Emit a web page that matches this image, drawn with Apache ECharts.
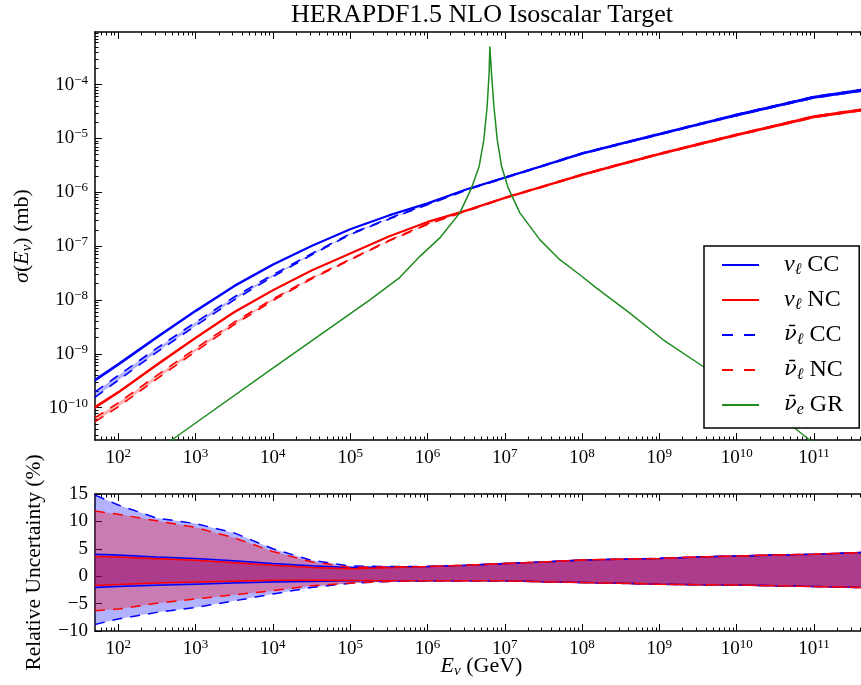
<!DOCTYPE html>
<html>
<head>
<meta charset="utf-8">
<script src="https://cdn.jsdelivr.net/npm/echarts@6/dist/echarts.min.js"></script>
<style>
html, body { margin: 0; padding: 0; background: #ffffff; }
#chart { width: 861px; height: 685px; }
</style>
</head>
<body>
<div id="chart"></div>
<script>
// ---------------- data ----------------
const energies = [50, 100, 316, 1e3, 3160, 1e4, 3.16e4, 1e5, 3.16e5, 1e6, 3.16e6, 1e7, 3.16e7, 1e8, 3.16e8, 1e9, 3.16e9, 1e10, 3.16e10, 1e11, 5e11];

// cross sections in mb
const sigmaNuCC    = [3.2e-10, 6.3e-10, 2.0e-9, 6.2e-9, 1.8e-8, 4.5e-8, 1.0e-7, 2.05e-7, 3.7e-7, 6.2e-7, 1.12e-6, 1.85e-6, 3.1e-6, 5.2e-6, 7.9e-6, 1.19e-5, 1.8e-5, 2.7e-5, 3.95e-5, 5.75e-5, 8.1e-5];
const sigmaNuNC    = [1.0e-10, 1.9e-10, 6.2e-10, 1.95e-9, 5.9e-9, 1.5e-8, 3.5e-8, 7.3e-8, 1.5e-7, 2.8e-7, 4.55e-7, 7.8e-7, 1.28e-6, 2.1e-6, 3.3e-6, 5.1e-6, 7.7e-6, 1.15e-5, 1.7e-5, 2.5e-5, 3.5e-5];
const sigmaNubarCC = [1.7e-10, 3.5e-10, 1.15e-9, 3.5e-9, 1.05e-8, 2.8e-8, 7.0e-8, 1.66e-7, 3.2e-7, 5.9e-7, 1.1e-6, 1.85e-6, 3.1e-6, 5.2e-6, 7.9e-6, 1.19e-5, 1.8e-5, 2.7e-5, 3.95e-5, 5.75e-5, 8.1e-5];
const sigmaNubarNC = [5.8e-11, 1.1e-10, 3.6e-10, 1.15e-9, 3.6e-9, 1.0e-8, 2.5e-8, 5.6e-8, 1.25e-7, 2.55e-7, 4.45e-7, 7.8e-7, 1.28e-6, 2.1e-6, 3.3e-6, 5.1e-6, 7.7e-6, 1.15e-5, 1.7e-5, 2.5e-5, 3.5e-5];

// relative uncertainties in %
const uncNuCCUp    = [4.0, 3.85, 3.5, 3.25, 2.8, 2.3, 1.9, 1.6, 1.7, 1.75, 2.0, 2.3, 2.6, 2.95, 3.1, 3.25, 3.5, 3.7, 3.85, 4.0, 4.35];
const uncNuCCDn    = [-2.05, -1.87, -1.65, -1.45, -1.25, -1.05, -0.95, -0.85, -0.85, -0.85, -0.82, -0.85, -1.0, -1.15, -1.3, -1.45, -1.55, -1.6, -1.75, -1.87, -2.1];
const uncNuNCUp    = [3.6, 3.5, 3.2, 2.9, 2.45, 2.0, 1.6, 1.35, 1.55, 1.75, 2.0, 2.3, 2.6, 2.95, 3.1, 3.25, 3.5, 3.7, 3.85, 4.0, 4.35];
const uncNuNCDn    = [-1.7, -1.5, -1.25, -1.05, -0.9, -0.75, -0.75, -0.8, -0.85, -0.85, -0.82, -0.85, -1.0, -1.15, -1.3, -1.45, -1.55, -1.6, -1.75, -1.87, -2.1];
const uncNubarCCUp = [14.8, 13.0, 10.6, 9.6, 7.9, 5.0, 2.9, 1.86, 1.75, 1.75, 2.0, 2.3, 2.6, 2.95, 3.1, 3.25, 3.5, 3.7, 3.85, 4.0, 4.35];
const uncNubarCCDn = [-8.8, -7.8, -6.6, -5.7, -4.5, -3.25, -2.05, -1.3, -0.95, -0.85, -0.82, -0.85, -1.0, -1.15, -1.3, -1.45, -1.55, -1.6, -1.75, -1.87, -2.1];
const uncNubarNCUp = [11.9, 11.3, 10.1, 8.9, 7.0, 4.5, 2.65, 1.6, 1.7, 1.75, 2.0, 2.3, 2.6, 2.95, 3.1, 3.25, 3.5, 3.7, 3.85, 4.0, 4.35];
const uncNubarNCDn = [-6.3, -6.0, -4.95, -4.15, -3.4, -2.65, -1.75, -1.27, -0.95, -0.85, -0.82, -0.85, -1.0, -1.15, -1.3, -1.45, -1.55, -1.6, -1.75, -1.87, -2.1];

// Glashow resonance (anti-nu_e + e)
const grEnergies = [398, 491, 1e4, 1.8e5, 4.4e5, 7.98e5, 1.445e6, 2.62e6, 3.72e6, 4.67e6, 5.37e6, 5.92e6, 6.28e6, 6.41e6, 6.73e6, 7.23e6, 7.98e6, 9.08e6, 1.107e7, 1.567e7, 2.84e7, 5.15e7, 9.35e7, 1.54e8, 4.15e8, 1.12e9, 3.68e9, 5.36e10, 8.81e10, 5e11];
const grSigma    = [2.0e-11, 2.5e-11, 5.4e-10, 1.0e-8, 2.63e-8, 6.46e-8, 1.42e-7, 4.15e-7, 1.21e-6, 3.05e-6, 9.6e-6, 4.0e-5, 1.67e-4, 5.09e-4, 1.67e-4, 4.0e-5, 9.6e-6, 3.05e-6, 1.21e-6, 4.15e-7, 1.32e-7, 5.6e-8, 2.94e-8, 1.66e-8, 5.7e-9, 1.82e-9, 5.8e-10, 4.4e-11, 2.5e-11, 4.7e-12];

// ticks / ranges
const xTickValues = [1e2, 1e3, 1e4, 1e5, 1e6, 1e7, 1e8, 1e9, 1e10, 1e11];
const yTickValues = [1e-10, 1e-9, 1e-8, 1e-7, 1e-6, 1e-5, 1e-4];
const uncTickValues = [-10, -5, 0, 5, 10, 15];
const xRange = [50, 5e11];
const yRange = [2.5e-11, 9.5e-4];
const uncRange = [-10, 15];

const legendNames = ['nuCC', 'nuNC', 'nubarCC', 'nubarNC', 'GR'];
const legendLabels = {
  nuCC: '{g|\u03bd}{s|\u2113}{t| CC}',
  nuNC: '{g|\u03bd}{s|\u2113}{t| NC}',
  nubarCC: '{gb|\u03bd\u0304}{s|\u2113}{t| CC}',
  nubarNC: '{gb|\u03bd\u0304}{s|\u2113}{t| NC}',
  GR: '{gb|\u03bd\u0304}{s|e}{t| GR}'
};

// ---------------- styling ----------------
const FONT = 'Liberation Serif';
const BLUE = '#0000ff', RED = '#ff0000', GREEN = '#1e8c1e';
const DASH = [10, 8];

function minorLog(lo, hi) {
  const out = [];
  for (let n = Math.floor(Math.log10(lo)); n <= Math.ceil(Math.log10(hi)); n++) {
    for (let k = 2; k <= 9; k++) {
      const v = k * Math.pow(10, n);
      if (v > lo && v < hi) out.push(v);
    }
  }
  return out;
}
const xMinor = minorLog(xRange[0], xRange[1]);
const yMinor = minorLog(yRange[0], yRange[1]);

const tickRich = {
  b: { fontFamily: FONT, fontSize: 19, lineHeight: 22, color: '#000' },
  sup: { fontFamily: FONT, fontSize: 13, lineHeight: 12, verticalAlign: 'top', color: '#000' }
};
const nameRich = {
  it: { fontFamily: FONT, fontStyle: 'italic', fontSize: 22, lineHeight: 26, color: '#000' },
  sub: { fontFamily: FONT, fontStyle: 'italic', fontSize: 15, lineHeight: 13, verticalAlign: 'bottom', color: '#000' },
  r: { fontFamily: FONT, fontSize: 22, lineHeight: 26, color: '#000' }
};

const NOSPLIT = { splitLine: { show: false }, splitArea: { show: false } };

function xAxesFor(grid, name) {
  const base = Object.assign({ gridIndex: grid, type: 'log', logBase: 10, min: xRange[0], max: xRange[1] }, NOSPLIT);
  const majBottom = Object.assign({}, base, {
    position: 'bottom',
    axisLine: { show: true, onZero: false, lineStyle: { color: '#000', width: 1.5 } },
    axisTick: { show: true, inside: true, length: 7, customValues: xTickValues, lineStyle: { color: '#000', width: 1 } },
    axisLabel: {
      show: true, customValues: xTickValues, margin: 7, color: '#000',
      formatter: v => '{b|10}{sup|' + Math.round(Math.log10(v)) + '}', rich: tickRich
    }
  });
  if (name) {
    Object.assign(majBottom, {
      name: name, nameLocation: 'middle', nameGap: 22, nameMoveOverlap: false,
      nameTextStyle: { fontFamily: FONT, fontSize: 22, color: '#000', rich: nameRich }
    });
  }
  const minBottom = Object.assign({}, base, {
    position: 'bottom',
    axisLine: { show: false, onZero: false },
    axisTick: { show: true, inside: true, length: 3.5, customValues: xMinor, lineStyle: { color: '#000', width: 1 } },
    axisLabel: { show: false }
  });
  const majTop = Object.assign({}, base, {
    position: 'top',
    axisLine: { show: true, onZero: false, lineStyle: { color: '#000', width: 1.5 } },
    axisTick: { show: true, inside: true, length: 7, customValues: xTickValues, lineStyle: { color: '#000', width: 1 } },
    axisLabel: { show: false }
  });
  const minTop = Object.assign({}, base, {
    position: 'top',
    axisLine: { show: false, onZero: false },
    axisTick: { show: true, inside: true, length: 3.5, customValues: xMinor, lineStyle: { color: '#000', width: 1 } },
    axisLabel: { show: false }
  });
  return [majBottom, minBottom, majTop, minTop];
}

const xAxes = xAxesFor(0, null).concat(xAxesFor(1, '{it|E}{sub|\u03bd}{r| (GeV)}'));

const yAxes = [
  Object.assign({
    gridIndex: 0, type: 'log', logBase: 10, min: yRange[0], max: yRange[1], position: 'left',
    axisLine: { show: true, onZero: false, lineStyle: { color: '#000', width: 1.5 } },
    axisTick: { show: true, inside: true, length: 7, customValues: yTickValues, lineStyle: { color: '#000', width: 1 } },
    axisLabel: {
      show: true, customValues: yTickValues, margin: 7, color: '#000',
      formatter: v => '{b|10}{sup|\u2212' + (-Math.round(Math.log10(v))) + '}', rich: tickRich
    },
    name: '{it|\u03c3}{r|(}{it|E}{sub|\u03bd}{r|) (mb)}', nameLocation: 'middle', nameGap: 60, nameMoveOverlap: false,
    nameTextStyle: { fontFamily: FONT, fontSize: 22, color: '#000', rich: nameRich }
  }, NOSPLIT),
  Object.assign({
    gridIndex: 0, type: 'log', logBase: 10, min: yRange[0], max: yRange[1], position: 'left',
    axisLine: { show: false, onZero: false },
    axisTick: { show: true, inside: true, length: 3.5, customValues: yMinor, lineStyle: { color: '#000', width: 1 } },
    axisLabel: { show: false }
  }, NOSPLIT),
  Object.assign({
    gridIndex: 1, type: 'value', min: uncRange[0], max: uncRange[1], position: 'left',
    axisLine: { show: true, onZero: false, lineStyle: { color: '#000', width: 1.5 } },
    axisTick: { show: true, inside: true, length: 7, customValues: uncTickValues, lineStyle: { color: '#000', width: 1 } },
    axisLabel: {
      show: true, customValues: uncTickValues, margin: 7, color: '#000', fontFamily: FONT, fontSize: 19,
      formatter: v => (v < 0 ? '\u2212' + Math.abs(v) : String(v))
    },
    name: 'Relative Uncertainty (%)', nameLocation: 'middle', nameGap: 50, nameMoveOverlap: false,
    nameTextStyle: { fontFamily: FONT, fontSize: 21.5, color: '#000' }
  }, NOSPLIT)
];

// ---------------- series ----------------
function bandSeries(rows, fill, xi, yi) {
  return {
    type: 'custom', xAxisIndex: xi, yAxisIndex: yi, silent: true, z: 1,
    data: rows,
    encode: { x: 0, y: [1, 2] },
    renderItem: function (params, api) {
      if (params.dataIndex !== 0) return null;
      const lower = rows.map(r => api.coord([r[0], r[1]]));
      const upper = rows.slice().reverse().map(r => api.coord([r[0], r[2]]));
      return { type: 'polygon', shape: { points: lower.concat(upper) }, style: { fill: fill } };
    }
  };
}
function lineSeries(name, points, color, dashed, width, xi, yi) {
  return {
    type: 'line', name: name, xAxisIndex: xi, yAxisIndex: yi,
    data: points, symbol: 'none', showSymbol: false, smooth: false, z: 2,
    lineStyle: { color: color, width: width, type: dashed ? DASH : 'solid' },
    itemStyle: { color: color }
  };
}

const curves = [
  { key: 'nubarCC', sigma: sigmaNubarCC, up: uncNubarCCUp, dn: uncNubarCCDn, color: BLUE, fill: 'rgba(0,0,255,0.3)', dashed: true },
  { key: 'nubarNC', sigma: sigmaNubarNC, up: uncNubarNCUp, dn: uncNubarNCDn, color: RED, fill: 'rgba(255,0,0,0.3)', dashed: true },
  { key: 'nuCC', sigma: sigmaNuCC, up: uncNuCCUp, dn: uncNuCCDn, color: BLUE, fill: 'rgba(0,0,255,0.3)', dashed: false },
  { key: 'nuNC', sigma: sigmaNuNC, up: uncNuNCUp, dn: uncNuNCDn, color: RED, fill: 'rgba(255,0,0,0.3)', dashed: false }
];

const series = [];
curves.forEach(c => {
  const rows = energies.map((e, i) => [e, c.sigma[i] * (1 + c.dn[i] / 100), c.sigma[i] * (1 + c.up[i] / 100)]);
  series.push(bandSeries(rows, c.fill, 0, 0));
});
curves.forEach(c => {
  const rows = energies.map((e, i) => [e, c.dn[i], c.up[i]]);
  series.push(bandSeries(rows, c.fill, 4, 2));
});
const lineOrder = [curves[2], curves[3], curves[0], curves[1]];
lineOrder.forEach(c => {
  const lo = energies.map((e, i) => [e, c.sigma[i] * (1 + c.dn[i] / 100)]);
  const hi = energies.map((e, i) => [e, c.sigma[i] * (1 + c.up[i] / 100)]);
  series.push(lineSeries(c.key + '_lo', lo, c.color, c.dashed, 1.6, 0, 0));
  series.push(lineSeries(c.key, hi, c.color, c.dashed, 1.6, 0, 0));
  const ulo = energies.map((e, i) => [e, c.dn[i]]);
  const uhi = energies.map((e, i) => [e, c.up[i]]);
  series.push(lineSeries(c.key + '_ulo', ulo, c.color, c.dashed, 1.5, 4, 2));
  series.push(lineSeries(c.key + '_uhi', uhi, c.color, c.dashed, 1.5, 4, 2));
});
series.push(lineSeries('GR', grEnergies.map((e, i) => [e, grSigma[i]]), GREEN, false, 1.5, 0, 0));

const option = {
  animation: false,
  backgroundColor: '#ffffff',
  textStyle: { fontFamily: FONT },
  title: {
    text: 'HERAPDF1.5 NLO Isoscalar Target',
    left: 482, top: 2, textAlign: 'center', padding: 0,
    textStyle: { fontFamily: FONT, fontSize: 26, fontWeight: 'normal', color: '#000' }
  },
  grid: [
    { left: 95, right: -7, top: 32, height: 408, containLabel: false, outerBoundsMode: 'none' },
    { left: 95, right: -7, top: 494, height: 137, containLabel: false, outerBoundsMode: 'none' }
  ],
  xAxis: xAxes,
  yAxis: yAxes,
  legend: {
    data: legendNames.map(n => {
      const d = { name: n };
      if (n === 'nubarCC' || n === 'nubarNC') d.lineStyle = { type: [11, 11] };
      return d;
    }),
    orient: 'vertical', left: 704, top: 246,
    itemWidth: 37, itemHeight: 14, itemGap: 10,
    padding: [7, 16, 10, 17],
    itemStyle: { opacity: 0, color: 'rgba(0,0,0,0)', borderWidth: 0 },
    backgroundColor: '#ffffff', borderColor: '#000', borderWidth: 1.5, borderRadius: 0,
    selectedMode: false, z: 10,
    formatter: name => legendLabels[name],
    textStyle: {
      fontFamily: FONT, fontSize: 24, color: '#000',
      rich: {
        g: { fontFamily: FONT, fontStyle: 'italic', fontSize: 24, lineHeight: 26, padding: [0, 0, 0, 20], color: '#000' },
        gb: { fontFamily: 'DejaVu Serif', fontStyle: 'italic', fontSize: 21, lineHeight: 26, padding: [0, 0, 0, 20], color: '#000' },
        s: { fontFamily: FONT, fontStyle: 'italic', fontSize: 16, lineHeight: 12, verticalAlign: 'bottom', color: '#000' },
        t: { fontFamily: FONT, fontSize: 24, lineHeight: 26, color: '#000' }
      }
    }
  },
  series: series
};

const chart = echarts.init(document.getElementById('chart'), null, { renderer: 'canvas' });
chart.setOption(option);
</script>
</body>
</html>
